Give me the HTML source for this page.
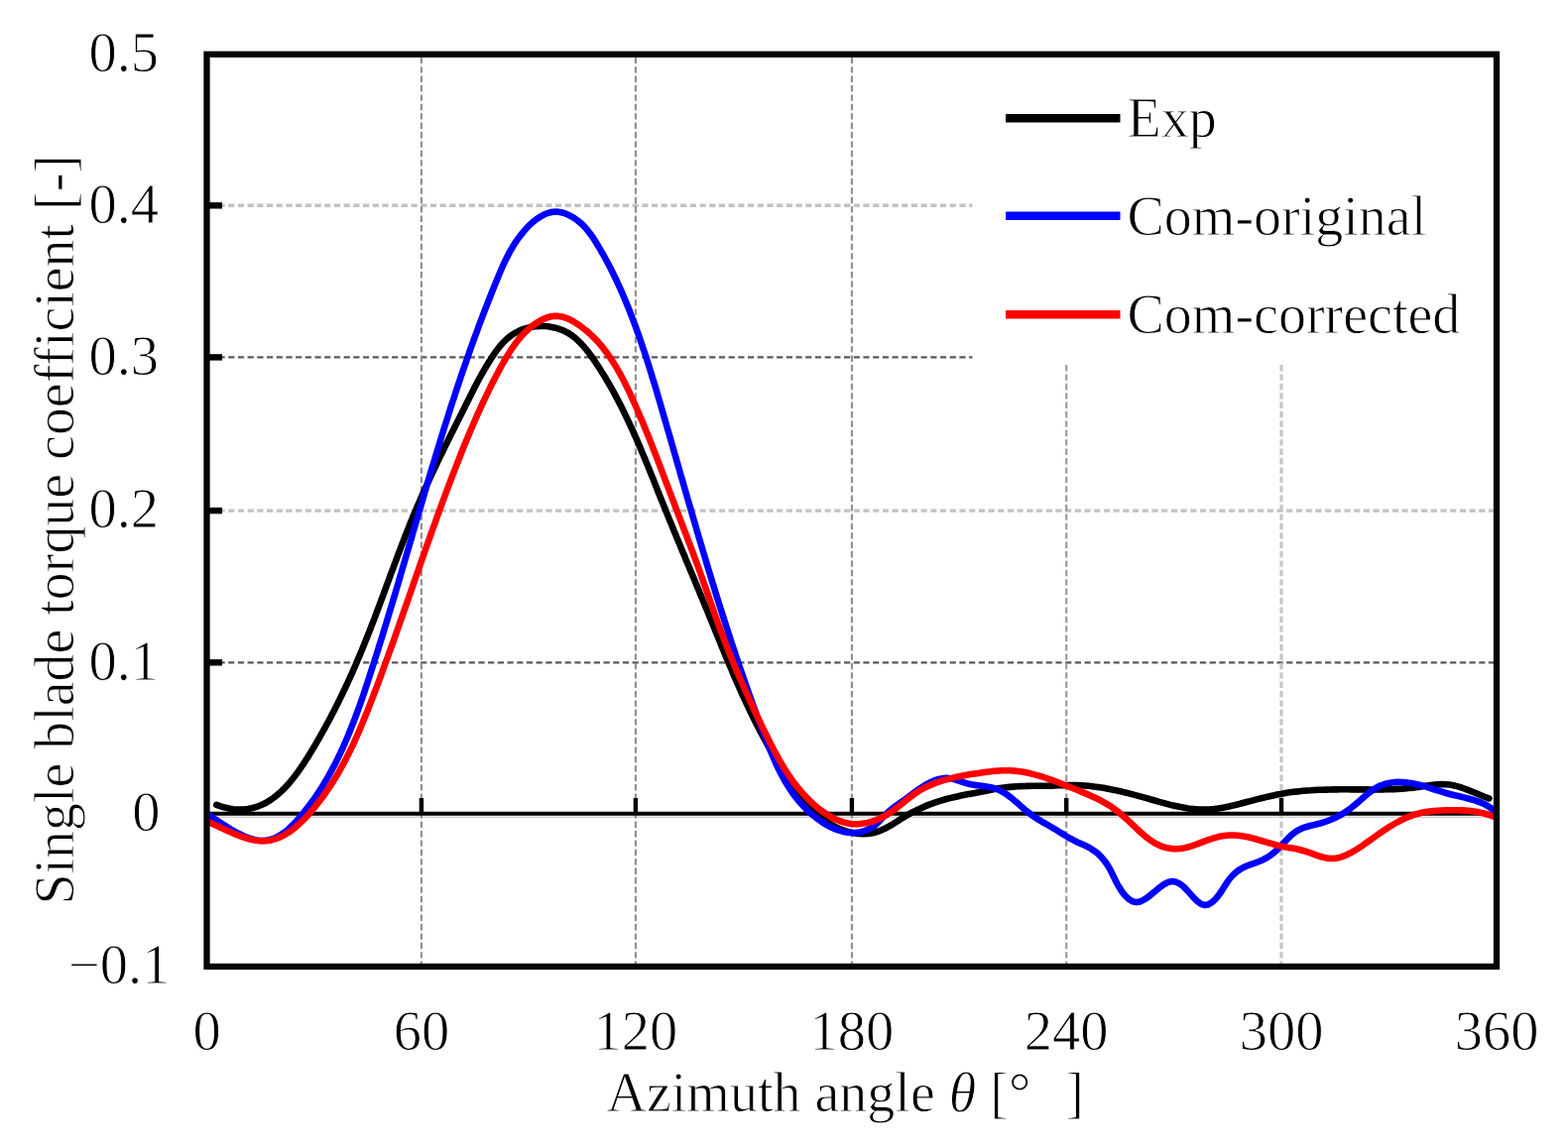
<!DOCTYPE html>
<html><head><meta charset="utf-8"><title>Single blade torque coefficient</title>
<style>
html,body{margin:0;padding:0;background:#fff;}
body{width:1581px;height:1158px;overflow:hidden;}
svg{display:block;}
.t{font-family:"Liberation Serif","Times New Roman",serif;font-size:56.5px;fill:#000;stroke:#fff;stroke-width:0.9px;paint-order:fill stroke;}
</style></head><body>
<svg width="1581" height="1158" viewBox="0 0 1581 1158">
<rect width="1581" height="1158" fill="#fff"/>
<line x1="220.5" y1="207.3" x2="980.5" y2="207.3" stroke="#c2c2c2" stroke-width="3.4" stroke-dasharray="6.2 3.5"/>
<line x1="220.5" y1="360.4" x2="980.5" y2="360.4" stroke="#585858" stroke-width="2.2" stroke-dasharray="6.2 3.5"/>
<line x1="220.5" y1="515.1" x2="1506.0" y2="515.1" stroke="#c2c2c2" stroke-width="3.4" stroke-dasharray="6.2 3.5"/>
<line x1="220.5" y1="668.3" x2="1506.0" y2="668.3" stroke="#585858" stroke-width="2.2" stroke-dasharray="6.2 3.5"/>
<line x1="208.5" y1="824.3" x2="1509.0" y2="824.3" stroke="#d4d4d4" stroke-width="1.6"/>
<line x1="424.9" y1="57.8" x2="424.9" y2="972.0" stroke="#8e8e8e" stroke-width="2.1" stroke-dasharray="6.4 3"/>
<line x1="640.9" y1="57.8" x2="640.9" y2="972.0" stroke="#8e8e8e" stroke-width="2.1" stroke-dasharray="6.4 3"/>
<line x1="858.9" y1="57.8" x2="858.9" y2="972.0" stroke="#8e8e8e" stroke-width="2.1" stroke-dasharray="6.4 3"/>
<line x1="1075.2" y1="368.0" x2="1075.2" y2="972.0" stroke="#989898" stroke-width="2.1" stroke-dasharray="6.4 3"/>
<line x1="1292.0" y1="368.0" x2="1292.0" y2="972.0" stroke="#c6c6c6" stroke-width="3.2" stroke-dasharray="6.4 3"/>
<line x1="208.5" y1="820.8" x2="1509.0" y2="820.8" stroke="#000" stroke-width="4"/>
<line x1="424.9" y1="805" x2="424.9" y2="820" stroke="#000" stroke-width="4.4"/>
<line x1="640.9" y1="805" x2="640.9" y2="820" stroke="#000" stroke-width="4.4"/>
<line x1="858.9" y1="805" x2="858.9" y2="820" stroke="#000" stroke-width="4.4"/>
<line x1="1075.2" y1="805" x2="1075.2" y2="820" stroke="#000" stroke-width="4.4"/>
<line x1="1292.0" y1="805" x2="1292.0" y2="820" stroke="#000" stroke-width="4.4"/>
<line x1="208.5" y1="207.3" x2="224" y2="207.3" stroke="#000" stroke-width="6.4"/>
<line x1="208.5" y1="360.4" x2="224" y2="360.4" stroke="#000" stroke-width="6.4"/>
<line x1="208.5" y1="515.1" x2="224" y2="515.1" stroke="#000" stroke-width="6.4"/>
<line x1="208.5" y1="668.3" x2="224" y2="668.3" stroke="#000" stroke-width="6.4"/>
<path d="M218.3,811.9 L222.6,813.4 L226.8,814.6 L231.0,815.5 L235.0,816.2 L238.9,816.5 L242.7,816.6 L246.4,816.4 L250.0,816.0 L253.5,815.3 L256.9,814.4 L260.3,813.3 L263.5,812.0 L266.7,810.5 L269.8,808.8 L272.8,806.9 L275.7,804.9 L278.5,802.7 L281.3,800.3 L284.0,797.9 L286.7,795.2 L289.2,792.5 L291.8,789.7 L294.2,786.7 L296.6,783.7 L299.0,780.6 L301.3,777.4 L303.5,774.2 L305.8,770.9 L307.9,767.5 L310.1,764.2 L312.2,760.8 L314.2,757.4 L316.3,754.0 L318.3,750.6 L320.3,747.2 L322.2,743.8 L324.1,740.4 L326.0,737.1 L327.9,733.7 L329.7,730.3 L331.6,726.9 L333.4,723.5 L335.1,720.1 L336.9,716.7 L338.6,713.3 L340.3,710.0 L342.0,706.6 L343.6,703.2 L345.3,699.8 L346.9,696.4 L348.5,693.0 L350.1,689.6 L351.7,686.2 L353.2,682.7 L354.8,679.3 L356.3,675.9 L357.8,672.5 L359.3,669.0 L360.7,665.6 L362.2,662.1 L363.6,658.7 L365.1,655.2 L366.5,651.8 L367.9,648.3 L369.3,644.8 L370.7,641.3 L372.1,637.8 L373.5,634.3 L374.8,630.7 L376.2,627.2 L377.6,623.7 L378.9,620.1 L380.2,616.6 L381.6,613.0 L382.9,609.4 L384.2,605.9 L385.6,602.3 L386.9,598.7 L388.2,595.1 L389.5,591.5 L390.9,587.9 L392.2,584.3 L393.5,580.7 L394.8,577.2 L396.2,573.6 L397.5,570.0 L398.9,566.4 L400.2,562.8 L401.5,559.2 L402.9,555.6 L404.3,552.0 L405.6,548.4 L407.0,544.9 L408.4,541.3 L409.8,537.7 L411.2,534.2 L412.6,530.6 L414.0,527.1 L415.5,523.5 L416.9,520.0 L418.4,516.5 L419.9,513.0 L421.3,509.5 L422.9,506.0 L424.4,502.5 L425.9,499.1 L427.4,495.6 L429.0,492.2 L430.6,488.7 L432.1,485.3 L433.7,481.8 L435.3,478.4 L436.9,475.0 L438.6,471.6 L440.2,468.2 L441.8,464.7 L443.4,461.3 L445.1,457.9 L446.8,454.5 L448.4,451.1 L450.1,447.8 L451.7,444.4 L453.4,441.0 L455.1,437.6 L456.8,434.2 L458.5,430.8 L460.2,427.4 L461.9,424.0 L463.6,420.7 L465.3,417.3 L467.0,413.9 L468.7,410.5 L470.4,407.1 L472.1,403.7 L473.8,400.3 L475.5,396.9 L477.2,393.5 L478.9,390.1 L480.7,386.7 L482.5,383.3 L484.3,380.0 L486.2,376.6 L488.1,373.3 L490.0,370.0 L492.0,366.7 L494.1,363.4 L496.2,360.1 L498.4,356.9 L500.6,353.7 L503.0,350.6 L505.4,347.7 L508.0,344.8 L510.8,342.2 L513.6,339.7 L516.7,337.5 L519.9,335.6 L523.2,333.9 L526.7,332.4 L530.3,331.2 L533.9,330.3 L537.6,329.6 L541.4,329.1 L545.2,329.0 L548.9,329.0 L552.7,329.3 L556.4,329.9 L560.1,330.7 L563.7,331.8 L567.2,333.1 L570.6,334.7 L573.8,336.5 L576.9,338.6 L579.9,340.9 L582.7,343.4 L585.4,346.1 L588.0,348.9 L590.5,351.8 L593.0,354.9 L595.3,358.0 L597.6,361.2 L599.8,364.4 L601.9,367.7 L604.1,370.9 L606.1,374.2 L608.2,377.4 L610.2,380.7 L612.1,384.0 L614.1,387.3 L616.0,390.6 L617.8,393.9 L619.6,397.2 L621.4,400.6 L623.2,403.9 L624.9,407.3 L626.6,410.6 L628.3,414.0 L630.0,417.4 L631.6,420.8 L633.2,424.2 L634.8,427.6 L636.4,431.1 L638.0,434.5 L639.5,438.0 L641.1,441.4 L642.6,444.9 L644.1,448.3 L645.6,451.8 L647.0,455.3 L648.5,458.8 L650.0,462.3 L651.4,465.8 L652.9,469.3 L654.3,472.8 L655.7,476.3 L657.1,479.8 L658.6,483.3 L660.0,486.9 L661.4,490.4 L662.8,493.9 L664.2,497.5 L665.6,501.0 L667.0,504.5 L668.5,508.1 L669.9,511.6 L671.3,515.1 L672.8,518.7 L674.2,522.2 L675.6,525.8 L677.1,529.3 L678.5,532.8 L680.0,536.4 L681.5,539.9 L682.9,543.4 L684.4,547.0 L685.9,550.5 L687.3,554.1 L688.8,557.6 L690.3,561.1 L691.7,564.7 L693.2,568.2 L694.7,571.7 L696.1,575.3 L697.6,578.8 L699.1,582.3 L700.6,585.8 L702.0,589.4 L703.5,592.9 L705.0,596.4 L706.4,599.9 L707.9,603.4 L709.3,607.0 L710.8,610.5 L712.2,614.0 L713.7,617.5 L715.1,621.0 L716.5,624.5 L718.0,628.0 L719.4,631.5 L720.8,635.0 L722.2,638.5 L723.7,642.0 L725.1,645.5 L726.5,649.0 L727.9,652.4 L729.4,655.9 L730.8,659.4 L732.2,662.9 L733.7,666.3 L735.1,669.8 L736.6,673.3 L738.1,676.7 L739.5,680.2 L741.0,683.6 L742.5,687.1 L744.0,690.5 L745.6,693.9 L747.1,697.4 L748.6,700.8 L750.2,704.2 L751.8,707.6 L753.4,711.0 L755.0,714.4 L756.6,717.9 L758.3,721.3 L759.9,724.6 L761.6,728.0 L763.3,731.4 L765.1,734.8 L766.8,738.2 L768.6,741.5 L770.4,744.9 L772.3,748.2 L774.1,751.6 L776.0,754.9 L777.9,758.3 L779.9,761.6 L781.9,764.9 L783.9,768.2 L785.9,771.6 L788.0,774.9 L790.1,778.2 L792.2,781.4 L794.4,784.7 L796.6,788.0 L798.8,791.3 L801.1,794.5 L803.5,797.7 L805.8,800.9 L808.3,804.0 L810.8,807.0 L813.3,810.0 L815.9,812.9 L818.5,815.7 L821.2,818.5 L824.0,821.1 L826.8,823.6 L829.7,825.9 L832.7,828.1 L835.7,830.2 L838.9,832.2 L842.1,833.9 L845.3,835.5 L848.7,836.9 L852.2,838.2 L855.7,839.2 L859.3,840.0 L863.0,840.6 L866.9,841.0 L870.8,841.1 L874.7,840.9 L878.5,840.5 L882.3,839.7 L885.9,838.5 L889.4,837.1 L892.8,835.5 L896.1,833.7 L899.4,831.8 L902.7,829.7 L905.9,827.7 L909.1,825.6 L912.4,823.6 L915.7,821.7 L919.0,819.8 L922.4,818.1 L925.8,816.4 L929.2,814.9 L932.7,813.4 L936.2,811.9 L939.7,810.6 L943.3,809.3 L946.9,808.2 L950.5,807.1 L954.1,806.0 L957.8,805.1 L961.5,804.2 L965.2,803.4 L969.0,802.6 L972.7,801.8 L976.5,801.1 L980.3,800.4 L984.0,799.7 L987.8,799.0 L991.5,798.2 L995.3,797.5 L999.0,796.7 L1002.7,796.0 L1006.4,795.3 L1010.2,794.7 L1013.9,794.3 L1017.7,793.9 L1021.4,793.6 L1025.2,793.3 L1029.0,793.1 L1032.8,793.0 L1036.6,792.9 L1040.4,792.8 L1044.2,792.8 L1048.0,792.8 L1051.9,792.7 L1055.7,792.7 L1059.5,792.6 L1063.3,792.5 L1067.2,792.3 L1071.0,792.2 L1074.8,792.1 L1078.7,792.0 L1082.5,792.0 L1086.3,792.1 L1090.1,792.3 L1093.9,792.5 L1097.6,792.8 L1101.4,793.2 L1105.1,793.7 L1108.9,794.2 L1112.6,794.8 L1116.3,795.5 L1120.0,796.2 L1123.7,796.9 L1127.4,797.8 L1131.1,798.6 L1134.8,799.5 L1138.5,800.4 L1142.2,801.4 L1145.9,802.4 L1149.6,803.4 L1153.3,804.4 L1157.0,805.4 L1160.7,806.5 L1164.4,807.5 L1168.1,808.6 L1171.8,809.6 L1175.5,810.6 L1179.2,811.6 L1183.0,812.5 L1186.7,813.3 L1190.4,814.1 L1194.2,814.8 L1197.9,815.4 L1201.6,815.9 L1205.4,816.2 L1209.1,816.5 L1212.9,816.6 L1216.6,816.5 L1220.4,816.3 L1224.1,816.0 L1227.9,815.5 L1231.6,814.9 L1235.4,814.2 L1239.1,813.4 L1242.9,812.6 L1246.6,811.7 L1250.4,810.8 L1254.1,809.8 L1257.8,808.8 L1261.5,807.9 L1265.2,806.9 L1268.9,805.9 L1272.6,805.0 L1276.3,804.1 L1280.0,803.2 L1283.8,802.4 L1287.5,801.6 L1291.2,800.9 L1294.9,800.2 L1298.7,799.6 L1302.4,799.1 L1306.2,798.6 L1310.0,798.2 L1313.8,797.8 L1317.5,797.5 L1321.3,797.3 L1325.1,797.0 L1328.9,796.8 L1332.7,796.7 L1336.6,796.6 L1340.4,796.5 L1344.2,796.4 L1348.0,796.4 L1351.8,796.3 L1355.6,796.3 L1359.5,796.3 L1363.3,796.4 L1367.1,796.4 L1370.9,796.4 L1374.7,796.4 L1378.5,796.4 L1382.3,796.5 L1386.1,796.4 L1389.9,796.4 L1393.7,796.4 L1397.5,796.3 L1401.3,796.2 L1405.1,796.1 L1408.9,795.9 L1412.6,795.7 L1416.4,795.4 L1420.2,795.0 L1424.0,794.6 L1427.8,794.2 L1431.5,793.7 L1435.3,793.1 L1439.1,792.5 L1442.9,792.0 L1446.6,791.5 L1450.4,791.2 L1454.1,791.1 L1457.9,791.2 L1461.6,791.5 L1465.4,792.2 L1469.1,793.1 L1472.7,794.2 L1476.4,795.5 L1480.1,796.9 L1483.7,798.3 L1487.3,799.8 L1490.8,801.3 L1494.4,802.8 L1497.8,804.2 L1501.3,805.4" fill="none" stroke="#000" stroke-width="6.6" stroke-linejoin="round" stroke-linecap="round"/>
<path d="M209.4,821.4 L212.2,823.2 L215.5,825.4 L219.0,827.7 L222.8,830.3 L226.9,832.9 L231.1,835.6 L235.5,838.1 L240.0,840.6 L244.6,842.8 L249.2,844.7 L253.7,846.3 L258.3,847.4 L262.7,848.0 L266.9,847.9 L271.1,847.3 L275.1,846.2 L278.9,844.5 L282.6,842.5 L286.2,840.0 L289.7,837.3 L293.0,834.2 L296.3,831.0 L299.4,827.6 L302.5,824.1 L305.5,820.5 L308.4,816.9 L311.2,813.3 L314.0,809.6 L316.7,805.9 L319.3,802.1 L321.8,798.3 L324.3,794.5 L326.7,790.6 L329.0,786.7 L331.3,782.7 L333.5,778.7 L335.7,774.7 L337.8,770.7 L339.8,766.6 L341.8,762.6 L343.8,758.4 L345.7,754.3 L347.5,750.1 L349.3,746.0 L351.1,741.8 L352.8,737.5 L354.5,733.3 L356.2,729.0 L357.8,724.8 L359.4,720.5 L361.0,716.2 L362.6,711.9 L364.1,707.6 L365.6,703.2 L367.1,698.9 L368.5,694.5 L370.0,690.2 L371.4,685.8 L372.8,681.5 L374.2,677.1 L375.6,672.8 L377.0,668.4 L378.4,664.0 L379.8,659.7 L381.2,655.3 L382.5,650.9 L383.9,646.6 L385.3,642.2 L386.6,637.8 L387.9,633.5 L389.3,629.1 L390.6,624.7 L391.9,620.3 L393.2,616.0 L394.6,611.6 L395.9,607.2 L397.2,602.8 L398.5,598.5 L399.8,594.1 L401.1,589.7 L402.4,585.3 L403.6,581.0 L404.9,576.6 L406.2,572.2 L407.5,567.8 L408.8,563.5 L410.0,559.1 L411.3,554.7 L412.6,550.3 L413.9,546.0 L415.2,541.6 L416.4,537.2 L417.7,532.8 L419.0,528.4 L420.3,524.1 L421.5,519.7 L422.8,515.3 L424.1,511.0 L425.4,506.6 L426.7,502.2 L427.9,497.8 L429.2,493.5 L430.5,489.1 L431.8,484.7 L433.1,480.4 L434.4,476.0 L435.7,471.6 L437.1,467.3 L438.4,462.9 L439.7,458.5 L441.0,454.2 L442.4,449.8 L443.7,445.5 L445.0,441.1 L446.4,436.7 L447.7,432.4 L449.1,428.0 L450.5,423.7 L451.9,419.3 L453.2,415.0 L454.6,410.6 L456.0,406.3 L457.5,402.0 L458.9,397.6 L460.3,393.3 L461.7,388.9 L463.2,384.6 L464.6,380.3 L466.1,375.9 L467.6,371.6 L469.1,367.3 L470.6,363.0 L472.1,358.6 L473.6,354.3 L475.1,350.0 L476.7,345.7 L478.2,341.4 L479.8,337.1 L481.4,332.8 L482.9,328.5 L484.5,324.3 L486.2,320.0 L487.8,315.7 L489.4,311.5 L491.1,307.2 L492.7,303.0 L494.4,298.7 L496.1,294.5 L497.8,290.3 L499.5,286.1 L501.2,281.9 L502.9,277.7 L504.7,273.5 L506.5,269.3 L508.4,265.2 L510.3,261.1 L512.4,257.1 L514.5,253.1 L516.8,249.2 L519.2,245.3 L521.8,241.5 L524.6,237.8 L527.5,234.1 L530.6,230.6 L533.9,227.1 L537.4,223.9 L541.1,221.0 L545.0,218.4 L548.9,216.3 L553.0,214.7 L557.2,213.8 L561.5,213.6 L565.8,214.2 L570.1,215.4 L574.3,217.3 L578.4,219.6 L582.3,222.4 L586.0,225.4 L589.3,228.7 L592.3,232.2 L595.1,235.8 L597.8,239.5 L600.2,243.3 L602.6,247.2 L604.9,251.1 L607.2,255.1 L609.4,259.0 L611.6,263.0 L613.7,267.0 L615.8,271.1 L617.8,275.1 L619.8,279.2 L621.8,283.3 L623.7,287.5 L625.6,291.6 L627.4,295.8 L629.2,300.0 L631.0,304.2 L632.7,308.4 L634.4,312.6 L636.0,316.8 L637.7,321.1 L639.3,325.3 L640.9,329.6 L642.4,333.9 L644.0,338.2 L645.5,342.5 L646.9,346.8 L648.4,351.2 L649.9,355.5 L651.3,359.8 L652.7,364.2 L654.1,368.6 L655.4,372.9 L656.8,377.3 L658.1,381.7 L659.5,386.0 L660.8,390.4 L662.1,394.8 L663.4,399.2 L664.7,403.6 L666.0,408.0 L667.2,412.4 L668.5,416.8 L669.8,421.2 L671.1,425.6 L672.3,430.0 L673.6,434.4 L674.9,438.8 L676.1,443.2 L677.4,447.6 L678.7,452.0 L679.9,456.4 L681.2,460.7 L682.4,465.1 L683.7,469.5 L685.0,473.9 L686.2,478.3 L687.5,482.7 L688.8,487.1 L690.0,491.5 L691.3,495.8 L692.5,500.2 L693.8,504.6 L695.1,509.0 L696.4,513.4 L697.6,517.7 L698.9,522.1 L700.2,526.5 L701.5,530.9 L702.7,535.3 L704.0,539.6 L705.3,544.0 L706.6,548.4 L707.9,552.7 L709.2,557.1 L710.5,561.5 L711.8,565.8 L713.1,570.2 L714.4,574.6 L715.8,578.9 L717.1,583.3 L718.4,587.7 L719.8,592.0 L721.1,596.4 L722.4,600.7 L723.8,605.1 L725.2,609.4 L726.5,613.8 L727.9,618.1 L729.3,622.5 L730.7,626.8 L732.1,631.2 L733.5,635.5 L734.9,639.9 L736.3,644.2 L737.7,648.5 L739.1,652.9 L740.6,657.2 L742.0,661.5 L743.5,665.9 L744.9,670.2 L746.4,674.5 L747.9,678.9 L749.4,683.2 L750.9,687.5 L752.4,691.8 L753.9,696.1 L755.4,700.4 L757.0,704.8 L758.5,709.1 L760.1,713.4 L761.7,717.7 L763.2,722.0 L764.8,726.3 L766.4,730.6 L768.1,734.9 L769.7,739.2 L771.3,743.5 L773.0,747.8 L774.7,752.1 L776.4,756.3 L778.2,760.5 L780.0,764.8 L781.8,768.9 L783.7,773.1 L785.7,777.1 L787.8,781.2 L790.0,785.1 L792.2,789.1 L794.5,792.9 L797.0,796.7 L799.5,800.4 L802.2,804.0 L805.0,807.5 L808.0,810.9 L811.0,814.2 L814.3,817.5 L817.6,820.6 L821.2,823.5 L824.9,826.4 L828.8,829.1 L832.7,831.6 L836.8,833.8 L841.0,835.8 L845.3,837.4 L849.6,838.7 L854.0,839.6 L858.3,840.0 L862.7,840.0 L867.1,839.4 L871.4,838.3 L875.6,836.6 L879.6,834.4 L883.2,831.6 L886.5,828.5 L889.7,825.1 L892.9,821.8 L896.1,818.6 L899.6,815.7 L903.2,813.0 L906.8,810.4 L910.6,807.8 L914.3,805.1 L918.0,802.3 L921.7,799.5 L925.4,796.8 L929.3,794.2 L933.2,791.7 L937.2,789.6 L941.4,787.7 L945.7,786.2 L950.2,785.2 L954.6,784.8 L959.0,785.2 L963.3,786.4 L967.6,787.9 L972.0,789.4 L976.4,790.7 L980.9,791.5 L985.5,792.2 L990.1,792.8 L994.7,793.4 L999.1,794.3 L1003.4,795.4 L1007.6,797.0 L1011.5,799.1 L1015.3,801.5 L1019.0,804.3 L1022.5,807.2 L1026.1,810.3 L1029.6,813.4 L1033.1,816.5 L1036.7,819.4 L1040.3,822.2 L1044.0,824.7 L1047.8,827.1 L1051.7,829.5 L1055.7,831.7 L1059.6,834.0 L1063.6,836.3 L1067.5,838.7 L1071.4,841.1 L1075.2,843.5 L1079.1,845.8 L1083.2,847.9 L1087.4,849.9 L1091.6,851.8 L1095.8,853.7 L1099.8,855.9 L1103.6,858.4 L1107.1,861.2 L1110.3,864.4 L1113.2,867.8 L1115.9,871.5 L1118.3,875.3 L1120.5,879.4 L1122.5,883.5 L1124.5,887.7 L1126.6,891.8 L1129.0,895.9 L1131.6,899.9 L1134.7,903.7 L1138.1,906.9 L1141.8,909.2 L1145.6,910.1 L1149.5,909.4 L1153.5,907.6 L1157.5,904.9 L1161.5,901.6 L1165.6,898.2 L1169.7,894.9 L1173.7,892.0 L1177.7,889.9 L1181.7,889.0 L1185.7,889.6 L1189.6,891.5 L1193.4,894.4 L1197.0,898.1 L1200.6,902.1 L1204.1,906.0 L1207.6,909.4 L1211.0,911.9 L1214.6,913.0 L1218.3,912.4 L1221.9,910.2 L1225.4,907.1 L1228.5,903.4 L1231.2,899.5 L1233.8,895.4 L1236.4,891.4 L1239.0,887.5 L1241.9,884.0 L1245.1,880.8 L1248.5,878.1 L1252.3,875.7 L1256.4,873.8 L1260.7,872.1 L1265.1,870.6 L1269.4,869.0 L1273.6,867.2 L1277.6,865.0 L1281.4,862.5 L1285.0,859.6 L1288.4,856.5 L1291.7,853.2 L1294.8,849.8 L1298.0,846.4 L1301.3,843.1 L1304.7,840.2 L1308.3,837.7 L1312.4,835.7 L1316.6,834.2 L1321.1,833.0 L1325.6,831.9 L1330.1,830.8 L1334.6,829.5 L1338.9,828.0 L1343.1,826.3 L1347.2,824.4 L1351.2,822.3 L1355.1,820.0 L1358.8,817.5 L1362.5,814.8 L1366.1,811.9 L1369.7,808.9 L1373.2,805.8 L1376.7,802.7 L1380.2,799.8 L1383.9,797.0 L1387.7,794.6 L1391.6,792.5 L1395.8,791.0 L1400.1,789.9 L1404.6,789.2 L1409.2,788.9 L1413.8,789.0 L1418.5,789.4 L1423.1,790.0 L1427.7,790.9 L1432.1,792.0 L1436.5,793.2 L1440.9,794.6 L1445.2,796.0 L1449.5,797.4 L1453.8,798.7 L1458.2,800.0 L1462.6,801.2 L1467.0,802.3 L1471.5,803.3 L1476.0,804.4 L1480.4,805.5 L1484.9,806.7 L1489.2,808.1 L1493.4,809.7 L1497.6,811.6 L1501.5,813.9 L1505.4,816.5 L1509.0,819.6" fill="none" stroke="#0000ff" stroke-width="6.6" stroke-linejoin="round" stroke-linecap="butt"/>
<path d="M209.0,828.6 L212.1,829.9 L215.4,831.4 L218.8,833.0 L222.4,834.7 L226.2,836.5 L230.0,838.3 L233.9,840.0 L237.9,841.7 L241.9,843.3 L246.0,844.7 L250.1,846.0 L254.1,847.0 L258.1,847.7 L262.1,848.2 L266.0,848.3 L269.8,848.0 L273.5,847.4 L277.1,846.4 L280.7,845.2 L284.1,843.6 L287.5,841.8 L290.8,839.8 L294.0,837.5 L297.1,835.1 L300.2,832.5 L303.2,829.7 L306.1,826.9 L308.9,823.9 L311.7,820.8 L314.4,817.7 L317.0,814.6 L319.5,811.4 L322.0,808.2 L324.5,805.0 L326.9,801.7 L329.2,798.4 L331.4,795.1 L333.7,791.8 L335.8,788.4 L337.9,785.0 L340.0,781.6 L342.0,778.1 L343.9,774.6 L345.9,771.1 L347.7,767.6 L349.6,764.1 L351.4,760.5 L353.1,757.0 L354.9,753.4 L356.6,749.8 L358.2,746.1 L359.9,742.5 L361.5,738.8 L363.0,735.2 L364.6,731.5 L366.1,727.8 L367.6,724.1 L369.1,720.4 L370.6,716.7 L372.1,713.0 L373.5,709.2 L375.0,705.5 L376.4,701.8 L377.8,698.0 L379.3,694.3 L380.7,690.5 L382.1,686.8 L383.5,683.0 L384.9,679.2 L386.2,675.5 L387.6,671.7 L389.0,667.9 L390.4,664.2 L391.7,660.4 L393.1,656.6 L394.5,652.8 L395.8,649.1 L397.2,645.3 L398.5,641.5 L399.8,637.7 L401.2,633.9 L402.5,630.1 L403.8,626.3 L405.2,622.5 L406.5,618.8 L407.8,615.0 L409.2,611.2 L410.5,607.4 L411.8,603.6 L413.1,599.8 L414.5,596.0 L415.8,592.2 L417.1,588.4 L418.4,584.6 L419.7,580.8 L421.1,577.0 L422.4,573.2 L423.7,569.4 L425.0,565.6 L426.4,561.8 L427.7,558.1 L429.0,554.3 L430.4,550.5 L431.7,546.7 L433.1,542.9 L434.4,539.1 L435.7,535.3 L437.1,531.6 L438.5,527.8 L439.8,524.0 L441.2,520.2 L442.6,516.5 L443.9,512.7 L445.3,508.9 L446.7,505.2 L448.1,501.4 L449.5,497.7 L450.9,493.9 L452.3,490.1 L453.7,486.4 L455.1,482.7 L456.6,478.9 L458.0,475.2 L459.5,471.4 L460.9,467.7 L462.4,464.0 L463.8,460.3 L465.3,456.6 L466.8,452.8 L468.3,449.1 L469.8,445.4 L471.4,441.7 L472.9,438.1 L474.4,434.4 L476.0,430.7 L477.6,427.0 L479.2,423.3 L480.8,419.7 L482.4,416.0 L484.1,412.4 L485.8,408.7 L487.4,405.1 L489.2,401.4 L490.9,397.8 L492.7,394.2 L494.4,390.6 L496.2,387.0 L498.1,383.4 L499.9,379.8 L501.8,376.2 L503.7,372.6 L505.7,369.0 L507.6,365.5 L509.7,362.0 L511.7,358.5 L513.9,355.0 L516.1,351.6 L518.4,348.3 L520.8,345.0 L523.3,341.9 L525.9,338.8 L528.7,335.9 L531.6,333.1 L534.6,330.4 L537.8,327.9 L541.2,325.6 L544.6,323.5 L548.2,321.7 L551.8,320.3 L555.6,319.3 L559.3,318.8 L563.0,318.9 L566.8,319.5 L570.5,320.6 L574.2,322.1 L577.7,324.0 L581.3,326.2 L584.7,328.5 L587.9,331.0 L591.1,333.5 L594.1,336.1 L597.1,338.9 L599.9,341.7 L602.7,344.6 L605.3,347.6 L607.9,350.7 L610.3,353.9 L612.7,357.1 L615.0,360.4 L617.2,363.7 L619.4,367.1 L621.5,370.6 L623.5,374.1 L625.5,377.6 L627.4,381.2 L629.3,384.8 L631.1,388.4 L632.9,392.1 L634.6,395.7 L636.3,399.4 L638.0,403.1 L639.7,406.8 L641.3,410.5 L642.9,414.2 L644.5,417.9 L646.1,421.6 L647.7,425.3 L649.2,429.0 L650.7,432.7 L652.2,436.4 L653.7,440.1 L655.2,443.8 L656.7,447.6 L658.2,451.3 L659.6,455.0 L661.1,458.7 L662.5,462.4 L663.9,466.1 L665.4,469.9 L666.8,473.6 L668.2,477.3 L669.6,481.0 L671.0,484.8 L672.4,488.5 L673.8,492.2 L675.2,496.0 L676.6,499.7 L678.1,503.5 L679.5,507.2 L680.9,511.0 L682.3,514.7 L683.8,518.5 L685.2,522.2 L686.6,526.0 L688.1,529.7 L689.5,533.5 L691.0,537.3 L692.4,541.0 L693.8,544.8 L695.3,548.6 L696.7,552.4 L698.1,556.1 L699.5,559.9 L700.9,563.7 L702.3,567.5 L703.7,571.2 L705.1,575.0 L706.4,578.8 L707.8,582.6 L709.1,586.4 L710.4,590.2 L711.8,594.0 L713.1,597.7 L714.4,601.5 L715.7,605.3 L717.0,609.1 L718.4,612.9 L719.7,616.7 L721.0,620.4 L722.4,624.2 L723.7,628.0 L725.1,631.7 L726.5,635.5 L727.9,639.2 L729.3,643.0 L730.7,646.7 L732.1,650.5 L733.6,654.2 L735.1,657.9 L736.6,661.6 L738.1,665.4 L739.6,669.1 L741.2,672.8 L742.7,676.5 L744.3,680.2 L745.9,683.9 L747.5,687.5 L749.1,691.2 L750.8,694.9 L752.4,698.5 L754.1,702.2 L755.7,705.9 L757.4,709.5 L759.1,713.1 L760.8,716.8 L762.5,720.4 L764.2,724.0 L766.0,727.6 L767.7,731.3 L769.4,734.9 L771.2,738.5 L773.0,742.0 L774.7,745.6 L776.5,749.2 L778.4,752.8 L780.2,756.3 L782.1,759.8 L784.0,763.3 L785.9,766.8 L787.9,770.2 L790.0,773.7 L792.1,777.0 L794.2,780.4 L796.5,783.7 L798.7,787.0 L801.1,790.2 L803.6,793.4 L806.1,796.5 L808.8,799.6 L811.5,802.6 L814.3,805.5 L817.2,808.4 L820.3,811.3 L823.4,814.0 L826.7,816.6 L830.0,819.0 L833.4,821.3 L836.9,823.5 L840.4,825.4 L844.0,827.0 L847.7,828.5 L851.5,829.6 L855.2,830.5 L859.1,831.0 L862.9,831.2 L866.8,831.1 L870.7,830.6 L874.6,829.9 L878.5,828.9 L882.3,827.6 L886.1,826.0 L889.7,824.3 L893.3,822.3 L896.8,820.2 L900.2,817.9 L903.4,815.5 L906.6,813.0 L909.8,810.5 L912.9,807.9 L916.0,805.4 L919.2,803.0 L922.4,800.6 L925.7,798.4 L929.1,796.3 L932.6,794.4 L936.2,792.7 L939.9,791.1 L943.6,789.7 L947.4,788.4 L951.3,787.2 L955.1,786.1 L959.0,785.1 L962.9,784.1 L966.8,783.3 L970.7,782.5 L974.7,781.8 L978.6,781.1 L982.6,780.5 L986.6,779.9 L990.6,779.3 L994.6,778.8 L998.7,778.2 L1002.7,777.8 L1006.8,777.5 L1010.8,777.3 L1014.8,777.2 L1018.8,777.3 L1022.8,777.6 L1026.7,778.0 L1030.6,778.6 L1034.5,779.3 L1038.4,780.1 L1042.3,781.1 L1046.1,782.1 L1050.0,783.2 L1053.8,784.5 L1057.6,785.8 L1061.4,787.1 L1065.2,788.5 L1068.9,790.0 L1072.7,791.5 L1076.5,793.0 L1080.2,794.5 L1084.0,796.0 L1087.7,797.5 L1091.5,799.1 L1095.2,800.6 L1098.9,802.2 L1102.5,803.9 L1106.2,805.6 L1109.7,807.4 L1113.2,809.3 L1116.6,811.3 L1120.0,813.4 L1123.2,815.7 L1126.4,818.1 L1129.5,820.6 L1132.5,823.2 L1135.5,825.9 L1138.5,828.6 L1141.4,831.4 L1144.4,834.2 L1147.3,837.0 L1150.3,839.7 L1153.4,842.4 L1156.5,845.0 L1159.8,847.4 L1163.1,849.6 L1166.6,851.6 L1170.3,853.3 L1174.1,854.6 L1178.0,855.5 L1182.0,856.1 L1186.0,856.2 L1189.9,856.0 L1193.8,855.4 L1197.7,854.5 L1201.6,853.3 L1205.4,852.0 L1209.2,850.6 L1213.1,849.1 L1216.9,847.7 L1220.8,846.3 L1224.7,845.1 L1228.6,844.1 L1232.5,843.3 L1236.4,842.8 L1240.4,842.5 L1244.3,842.5 L1248.2,842.8 L1252.2,843.2 L1256.1,843.9 L1260.0,844.8 L1263.9,845.7 L1267.8,846.8 L1271.7,848.0 L1275.6,849.1 L1279.5,850.3 L1283.4,851.4 L1287.3,852.5 L1291.2,853.4 L1295.1,854.2 L1299.1,854.9 L1303.0,855.6 L1306.9,856.3 L1310.8,857.2 L1314.7,858.3 L1318.7,859.5 L1322.6,860.9 L1326.4,862.3 L1330.3,863.7 L1334.2,864.8 L1338.0,865.6 L1341.8,866.0 L1345.6,865.9 L1349.4,865.3 L1353.1,864.2 L1356.8,862.8 L1360.4,861.1 L1364.0,859.1 L1367.6,857.0 L1371.1,854.7 L1374.5,852.4 L1377.8,850.0 L1381.1,847.7 L1384.4,845.4 L1387.6,843.1 L1390.9,840.8 L1394.2,838.6 L1397.5,836.3 L1400.9,834.1 L1404.3,832.0 L1407.8,830.0 L1411.3,828.1 L1414.9,826.3 L1418.5,824.6 L1422.2,823.1 L1425.9,821.8 L1429.8,820.7 L1433.7,819.8 L1437.6,819.1 L1441.6,818.5 L1445.6,818.0 L1449.7,817.7 L1453.7,817.5 L1457.8,817.3 L1461.9,817.2 L1465.9,817.2 L1469.9,817.2 L1473.9,817.4 L1477.9,817.6 L1481.9,818.0 L1485.8,818.4 L1489.7,819.1 L1493.6,819.9 L1497.5,820.8 L1501.4,822.0 L1505.2,823.3 L1509.0,824.9" fill="none" stroke="#ff0000" stroke-width="6.6" stroke-linejoin="round" stroke-linecap="butt"/>
<rect x="208.5" y="54.8" width="1300.5" height="920.2" fill="none" stroke="#050505" stroke-width="6.3"/>
<line x1="1014" y1="119.2" x2="1129.5" y2="119.2" stroke="#000" stroke-width="8.4"/>
<text x="1136.5" y="138.1" class="t" style="font-size:56px">Exp</text>
<line x1="1014" y1="217.8" x2="1129.5" y2="217.8" stroke="#0000ff" stroke-width="8.4"/>
<text x="1136.5" y="237.1" class="t" style="font-size:56px">Com-original</text>
<line x1="1014" y1="317.3" x2="1129.5" y2="317.3" stroke="#ff0000" stroke-width="8.4"/>
<text x="1136.5" y="336.0" class="t" style="font-size:56px">Com-corrected</text>
<text x="160.0" y="72.1" class="t" text-anchor="end">0.5</text>
<text x="160.0" y="224.6" class="t" text-anchor="end">0.4</text>
<text x="160.0" y="377.7" class="t" text-anchor="end">0.3</text>
<text x="160.0" y="532.4" class="t" text-anchor="end">0.2</text>
<text x="160.0" y="685.6" class="t" text-anchor="end">0.1</text>
<text x="161.5" y="838.1" class="t" text-anchor="end">0</text>
<text x="171.5" y="992.3" class="t" text-anchor="end">−0.1</text>
<text x="208.5" y="1058.5" class="t" text-anchor="middle">0</text>
<text x="424.9" y="1058.5" class="t" text-anchor="middle">60</text>
<text x="640.9" y="1058.5" class="t" text-anchor="middle">120</text>
<text x="858.9" y="1058.5" class="t" text-anchor="middle">180</text>
<text x="1075.2" y="1058.5" class="t" text-anchor="middle">240</text>
<text x="1292.0" y="1058.5" class="t" text-anchor="middle">300</text>
<text x="1509.0" y="1058.5" class="t" text-anchor="middle">360</text>
<text x="611.5" y="1120.5" class="t" style="font-size:56px">Azimuth angle <tspan font-style="italic">θ</tspan> [° <tspan dx="21">]</tspan></text>
<text class="t" transform="translate(73.8,912.6) rotate(-90)" textLength="756.5" lengthAdjust="spacingAndGlyphs">Single blade torque coefficient [-]</text>
</svg>
</body></html>
